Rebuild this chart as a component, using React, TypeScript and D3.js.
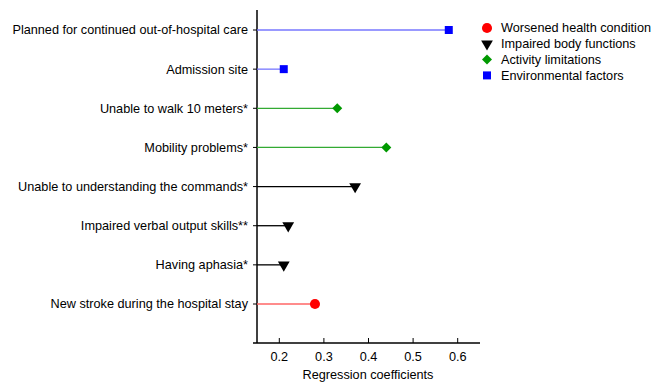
import React from "react"
import * as d3 from "d3"

const labels = [
  "Planned for continued out-of-hospital care",
  "Admission site",
  "Unable to walk 10 meters*",
  "Mobility problems*",
  "Unable to understanding the commands*",
  "Impaired verbal output skills**",
  "Having aphasia*",
  "New stroke during the hospital stay",
]
const coefs = [0.58, 0.21, 0.33, 0.44, 0.37, 0.22, 0.21, 0.28]
const groups = [3, 3, 2, 2, 1, 1, 1, 0]

const groupNames = [
  "Worsened health condition",
  "Impaired body functions",
  "Activity limitations",
  "Environmental factors",
]
const markerColors = ["#ff0000", "#000000", "#009900", "#0000ff"]
const lineColors = ["#ff6666", "#000000", "#33aa33", "#7777ff"]
const shapes = [d3.symbolCircle, d3.symbolTriangle, d3.symbolSquare, d3.symbolSquare]
const sizes = [80, 60, 50, 64]
const rotations = [0, 180, 45, 0]

const xTicks = [0.2, 0.3, 0.4, 0.5, 0.6]

const font = "'Liberation Sans', Arial, sans-serif"
const fs = 12.7

function Marker({g, x, y}: {g: number, x: number, y: number}) {
  const p = d3.symbol().type(shapes[g]).size(sizes[g])()
  return <path d={p || ""} transform={`translate(${x},${y}) rotate(${rotations[g]})`} fill={markerColors[g]} />
}

export default function App() {
  const x = d3.scaleLinear().domain([0.15, 0.65]).range([257, 480])
  const y = d3.scalePoint<string>().domain(labels).range([30, 304])
  const axisY = 343

  return (
    <svg width={651} height={382} style={{position: "absolute", left: 0, top: 0}} fontFamily={font}>
      {/* y axis */}
      <line x1={257} x2={257} y1={10} y2={axisY} stroke="#000" strokeWidth={1.5} />
      {labels.map((l, i) => (
        <g key={l}>
          <line x1={253} x2={257} y1={y(l)} y2={y(l)} stroke="#000" />
          <text x={248} y={y(l)} dy="0.35em" textAnchor="end" fontSize={fs}>{l}</text>
          <line x1={257} x2={x(coefs[i])} y1={y(l)} y2={y(l)} stroke={lineColors[groups[i]]} strokeWidth={1.3} />
          <Marker g={groups[i]} x={x(coefs[i])} y={y(l)!} />
        </g>
      ))}
      {/* x axis */}
      <line x1={253} x2={480} y1={axisY} y2={axisY} stroke="#000" strokeWidth={1.5} />
      {xTicks.map(t => (
        <g key={t}>
          <line x1={x(t)} x2={x(t)} y1={axisY - 5} y2={axisY} stroke="#000" />
          <text x={x(t)} y={axisY + 18} textAnchor="middle" fontSize={fs}>{t.toFixed(1)}</text>
        </g>
      ))}
      <text x={368} y={379} textAnchor="middle" fontSize={fs}>Regression coefficients</text>
      {/* legend */}
      {groupNames.map((n, i) => (
        <g key={n} transform={`translate(0,${28 + i * 15.8})`}>
          <Marker g={i} x={487} y={0} />
          <text x={501} y={0} dy="0.35em" fontSize={fs}>{n}</text>
        </g>
      ))}
    </svg>
  )
}
